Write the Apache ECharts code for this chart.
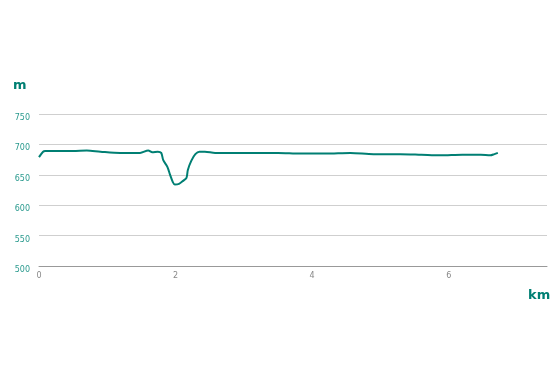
<!DOCTYPE html>
<html><head><meta charset="utf-8">
<script src="https://cdn.jsdelivr.net/npm/echarts@6/dist/echarts.min.js"></script>
<style>html,body{margin:0;padding:0;background:#fff}#c{width:554px;height:369px}</style>
</head><body><div id="c"></div>
<script>
const distanceKm = [0,0.06,0.09,0.3,0.5,0.7,0.9,1.19,1.48,1.6,1.66,1.74,1.79,1.82,1.88,1.92,1.96,1.99,2.05,2.11,2.16,2.18,2.23,2.29,2.35,2.43,2.58,3.0,3.5,3.83,4.2,4.56,4.9,5.29,5.6,5.88,6.2,6.47,6.61,6.67,6.72];
const elevationM = [679,688,689,689,689,690,688,686,686,690,687,688,686,674,663,650,638,634,635,640,645,658,673,684,688,688,686,686,686,685,685,686,684,684,683,682,683,683,682,684,686];
const yTicks = [500,550,600,650,700,750];
const xTicks = [0,2,4,6];

const chart = echarts.init(document.getElementById('c'));
chart.setOption({
  animation:false,
  grid:{left:39,right:7,top:114,bottom:103,containLabel:false},
  xAxis:{type:'value',min:0,max:7.44,interval:2,
    axisLine:{show:true,lineStyle:{color:'#999',width:1}},
    axisTick:{show:false},splitLine:{show:false},
    axisLabel:{color:'#888',fontSize:8,fontFamily:'DejaVu Sans',margin:6,
      formatter:v=>xTicks.includes(v)?String(v):''}},
  yAxis:{type:'value',min:yTicks[0],max:yTicks[yTicks.length-1],interval:50,
    axisLine:{show:false},axisTick:{show:false},
    splitLine:{lineStyle:{color:'#cfcfcf',width:1}},
    axisLabel:{color:'#2a9a8e',fontSize:8,fontFamily:'DejaVu Sans',margin:9,
      verticalAlign:'top'}},
  graphic:[
    {type:'text',left:13,top:79,style:{text:'m',fill:'#007f73',font:'bold 13px DejaVu Sans'}},
    {type:'text',left:528,top:289,style:{text:'km',fill:'#007f73',font:'bold 13px DejaVu Sans'}}
  ],
  series:[{type:'line',data:distanceKm.map((d,i)=>[d,elevationM[i]]),
    showSymbol:false,smooth:0.3,lineStyle:{color:'#007f73',width:2}}]
});
</script></body></html>
